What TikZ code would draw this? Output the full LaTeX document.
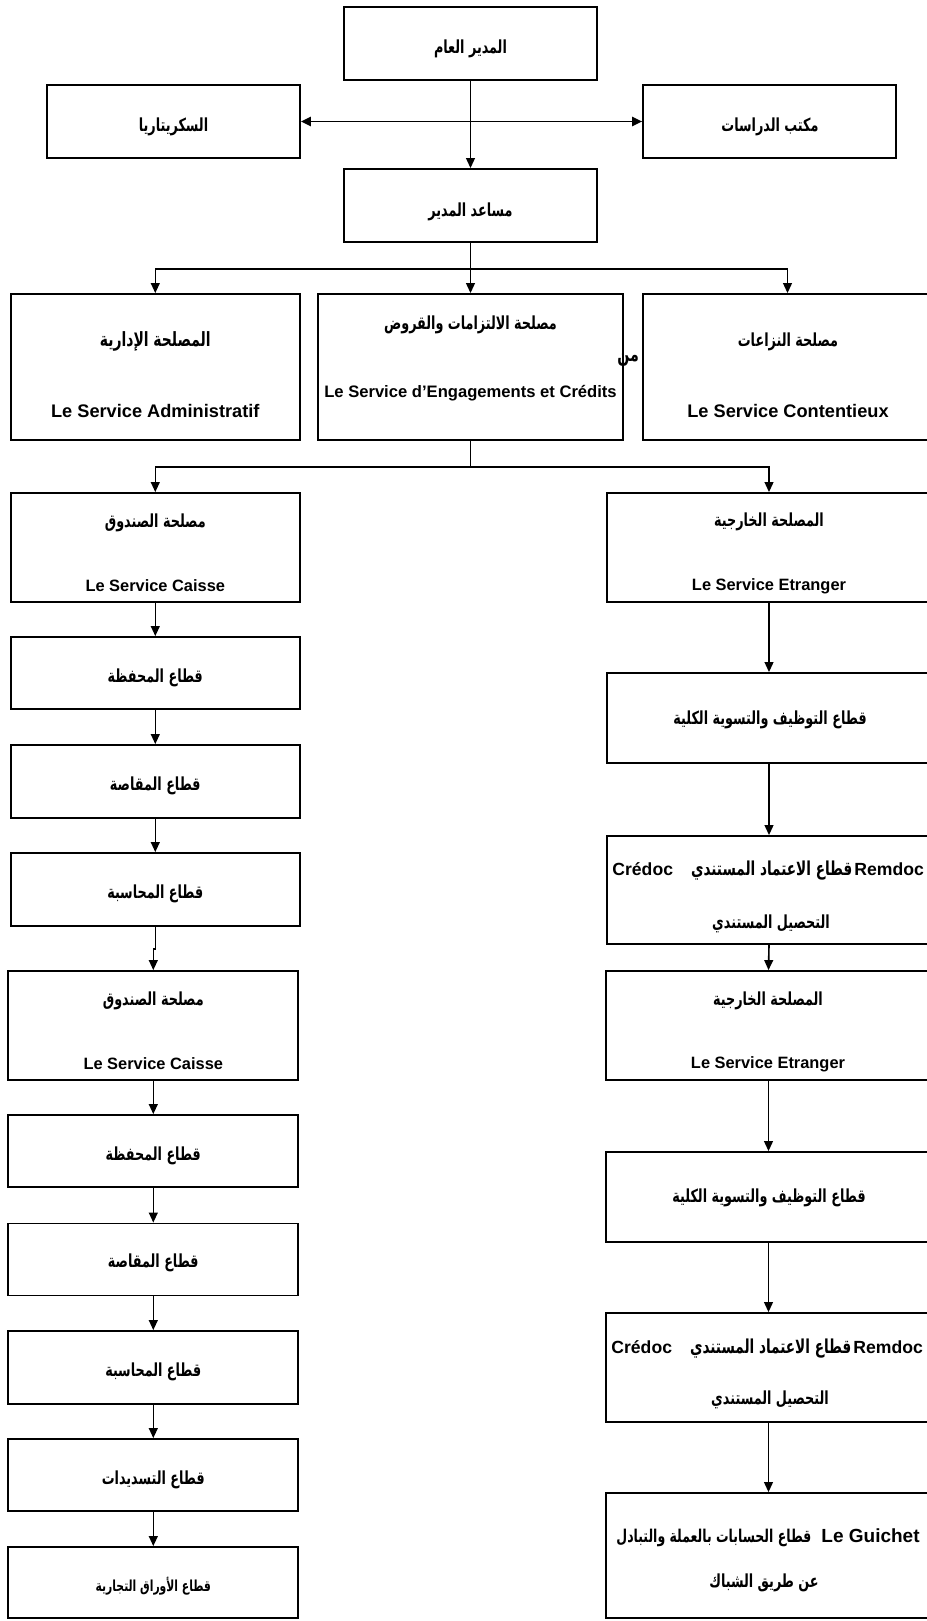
\documentclass[tikz,border=0pt]{standalone}
\usepackage{fontspec}
\setmainfont{Liberation Sans}
\newfontfamily\arfont[Script=Arabic,FakeStretch=0.71]{DejaVu Sans}
\TeXXeTstate=1
\usetikzlibrary{arrows.meta,fit}
\newcommand\AR[1]{{\arfont\beginR #1\endR}}
\begin{document}
\begin{tikzpicture}[x=0.5pt,y=-0.5pt,
  box/.style={draw=black,line width=0.9pt,fill=white,inner sep=0pt},
  arr/.style={line width=0.8pt,-{Triangle[length=5pt,width=4.4pt]}},
  darr/.style={line width=0.8pt,{Triangle[length=5pt,width=4.6pt]}-{Triangle[length=5pt,width=4.6pt]}},
  fr/.style={font=\bfseries\fontsize{8.2}{10}\selectfont,inner sep=0pt},
  frb/.style={font=\bfseries\fontsize{9.1}{10}\selectfont,inner sep=0pt},
  frc/.style={font=\bfseries\fontsize{8.8}{10}\selectfont,inner sep=0pt},
  artxt/.style={font=\bfseries\fontsize{9}{10}\selectfont,inner sep=0pt},
  arbig/.style={font=\bfseries\fontsize{9.8}{10}\selectfont,inner sep=0pt},
  arsm/.style={font=\bfseries\fontsize{7.6}{8}\selectfont,inner sep=0pt}]
\useasboundingbox (0,0) rectangle (926,1621);
\fill[white] (0,0) rectangle (926,1621);

% top level
\node[box,fit={(344,7) (597,80)}] (dg) {};
\node[artxt] (dgT) at (470.5,49) {\AR{المدير العام}};
\node[box,fit={(47,85) (300,158)}] (sec) {};
\node[artxt] (secT) at (173.5,127) {\AR{السكريتاريا}};
\node[box,fit={(643,85) (896,158)}] (stu) {};
\node[artxt] (stuT) at (770,127) {\AR{مكتب الدراسات}};
\node[box,fit={(344,169) (597,242)}] (asst) {};
\node[artxt] (asstT) at (470.5,212) {\AR{مساعد المدير}};

% services row
\node[box,fit={(10.6,294) (300,440)}] (adm) {};
\node[arbig] (admA) at (155.3,341) {\AR{المصلحة الإدارية}};
\node[frb] (admF) at (155.3,411) {Le Service Administratif};
\node[box,fit={(318,294) (623,440)}] (eng) {};
\node[artxt] (engA) at (470.5,325) {\AR{مصلحة الالتزامات والقروض}};
\node[fr,font=\bfseries\fontsize{8.3}{10}\selectfont] (engF) at (470.5,393) {Le Service d'Engagements et Crédits};
\node[artxt,anchor=west,font=\bfseries\fontsize{10}{10}\selectfont] (frag) at (617,360) {\AR{من}};
\node[box,fit={(643,294) (932,440)}] (cont) {};
\node[artxt] (contA) at (788,342) {\AR{مصلحة النزاعات}};
\node[frb] (contF) at (788,411) {Le Service Contentieux};

% left column
\node[box,fit={(10.6,493) (300,602)}] (c1) {};
\node[artxt] (c1A) at (155.3,523) {\AR{مصلحة الصندوق}};
\node[fr] (c1F) at (155.3,586) {Le Service Caisse};
\node[box,fit={(10.6,637) (300,709)}] (p1) {};
\node[artxt] (p1T) at (155.3,678) {\AR{قطاع المحفظة}};
\node[box,fit={(10.6,745) (300,818)}] (q1) {};
\node[artxt] (q1T) at (155.3,786) {\AR{قطاع المقاصة}};
\node[box,fit={(10.6,853) (300,926)}] (h1) {};
\node[artxt] (h1T) at (155.3,894) {\AR{قطاع المحاسبة}};
\node[box,fit={(8.3,971) (298.3,1080)}] (c2) {};
\node[artxt] (c2A) at (153.3,1000.5) {\AR{مصلحة الصندوق}};
\node[fr] (c2F) at (153.3,1064) {Le Service Caisse};
\node[box,fit={(8.3,1115) (298.3,1187)}] (p2) {};
\node[artxt] (p2T) at (153.3,1156) {\AR{قطاع المحفظة}};
\node[box,fit={(8.3,1223.5) (298.3,1295.5)}] (q2) {};
\node[artxt] (q2T) at (153.3,1263) {\AR{قطاع المقاصة}};
\node[box,fit={(8.3,1331) (298.3,1404)}] (h2) {};
\node[artxt] (h2T) at (153.3,1371.5) {\AR{قطاع المحاسبة}};
\node[box,fit={(8.3,1439) (298.3,1511)}] (s2) {};
\node[artxt] (s2T) at (153.3,1480) {\AR{قطاع التسديدات}};
\node[box,fit={(8.3,1547) (298.3,1618)}] (w2) {};
\node[arsm] (w2T) at (153.3,1586) {\AR{قطاع الأوراق التجارية}};

% right column
\node[box,fit={(607,493) (931,602)}] (e1) {};
\node[artxt] (e1A) at (769,522) {\AR{المصلحة الخارجية}};
\node[fr] (e1F) at (769,586) {Le Service Etranger};
\node[box,fit={(607,673) (931,763)}] (t1) {};
\node[artxt] (t1T) at (770,720) {\AR{قطاع التوظيف والتسوية الكلية}};
\node[box,fit={(607,836) (931,944)}] (r1) {};
\node[frc,anchor=west] (r1A) at (612,871) {Crédoc\hspace{9pt}{\fontsize{9.6}{10}\selectfont\arfont\beginR قطاع الاعتماد المستندي\endR}\hspace{1pt}Remdoc};
\node[artxt] (r1B) at (771,924) {\AR{التحصيل المستندي}};
\node[box,fit={(606,971) (931,1080)}] (e2) {};
\node[artxt] (e2A) at (768,1000.5) {\AR{المصلحة الخارجية}};
\node[fr] (e2F) at (768,1064) {Le Service Etranger};
\node[box,fit={(606,1152) (931,1242)}] (t2) {};
\node[artxt] (t2T) at (769,1198) {\AR{قطاع التوظيف والتسوية الكلية}};
\node[box,fit={(606,1313) (931,1422)}] (r2) {};
\node[frc,anchor=west] (r2A) at (611,1349) {Crédoc\hspace{9pt}{\fontsize{9.6}{10}\selectfont\arfont\beginR قطاع الاعتماد المستندي\endR}\hspace{1pt}Remdoc};
\node[artxt] (r2B) at (770,1400) {\AR{التحصيل المستندي}};
\node[box,fit={(606,1493) (931,1618)}] (g) {};
\node[frc,anchor=west,font=\bfseries\fontsize{9.5}{10}\selectfont] (gA) at (616,1538) {{\fontsize{8.8}{10}\selectfont\arfont\beginR قطاع الحسابات بالعملة والتبادل\endR}\hspace{5pt}Le Guichet};
\node[artxt] (gB) at (764,1583) {\AR{عن طريق الشباك}};

% connectors
\draw[arr] (dg.south) -- (asst.north);
\draw[darr] (sec.east) -- (stu.west);
\draw[arr] (asst.south) -- ++(0,26) -| (adm.north);
\draw[arr] (asst.south) -- ++(0,26) -| (cont.north);
\draw[arr] (asst.south) -- (eng.north);
\draw[arr] (eng.south) -- ++(0,26) -| (c1.north);
\draw[arr] (eng.south) -- ++(0,26) -| (e1.north);
\draw[arr] (c1.south) -- (p1.north);
\draw[arr] (p1.south) -- (q1.north);
\draw[arr] (q1.south) -- (h1.north);
\draw[arr] (h1.south) -- ++(0,22) -| (c2.north);
\draw[arr] (c2.south) -- (p2.north);
\draw[arr] (p2.south) -- (q2.north);
\draw[arr] (q2.south) -- (h2.north);
\draw[arr] (h2.south) -- (s2.north);
\draw[arr] (s2.south) -- (w2.north);
\draw[arr] (e1.south) -- (t1.north);
\draw[arr] (t1.south) -- (r1.north);
\draw[arr] (r1.south) -- (e2.north);
\draw[arr] (e2.south) -- (t2.north);
\draw[arr] (t2.south) -- (r2.north);
\draw[arr] (r2.south) -- (g.north);
\end{tikzpicture}
\end{document}
